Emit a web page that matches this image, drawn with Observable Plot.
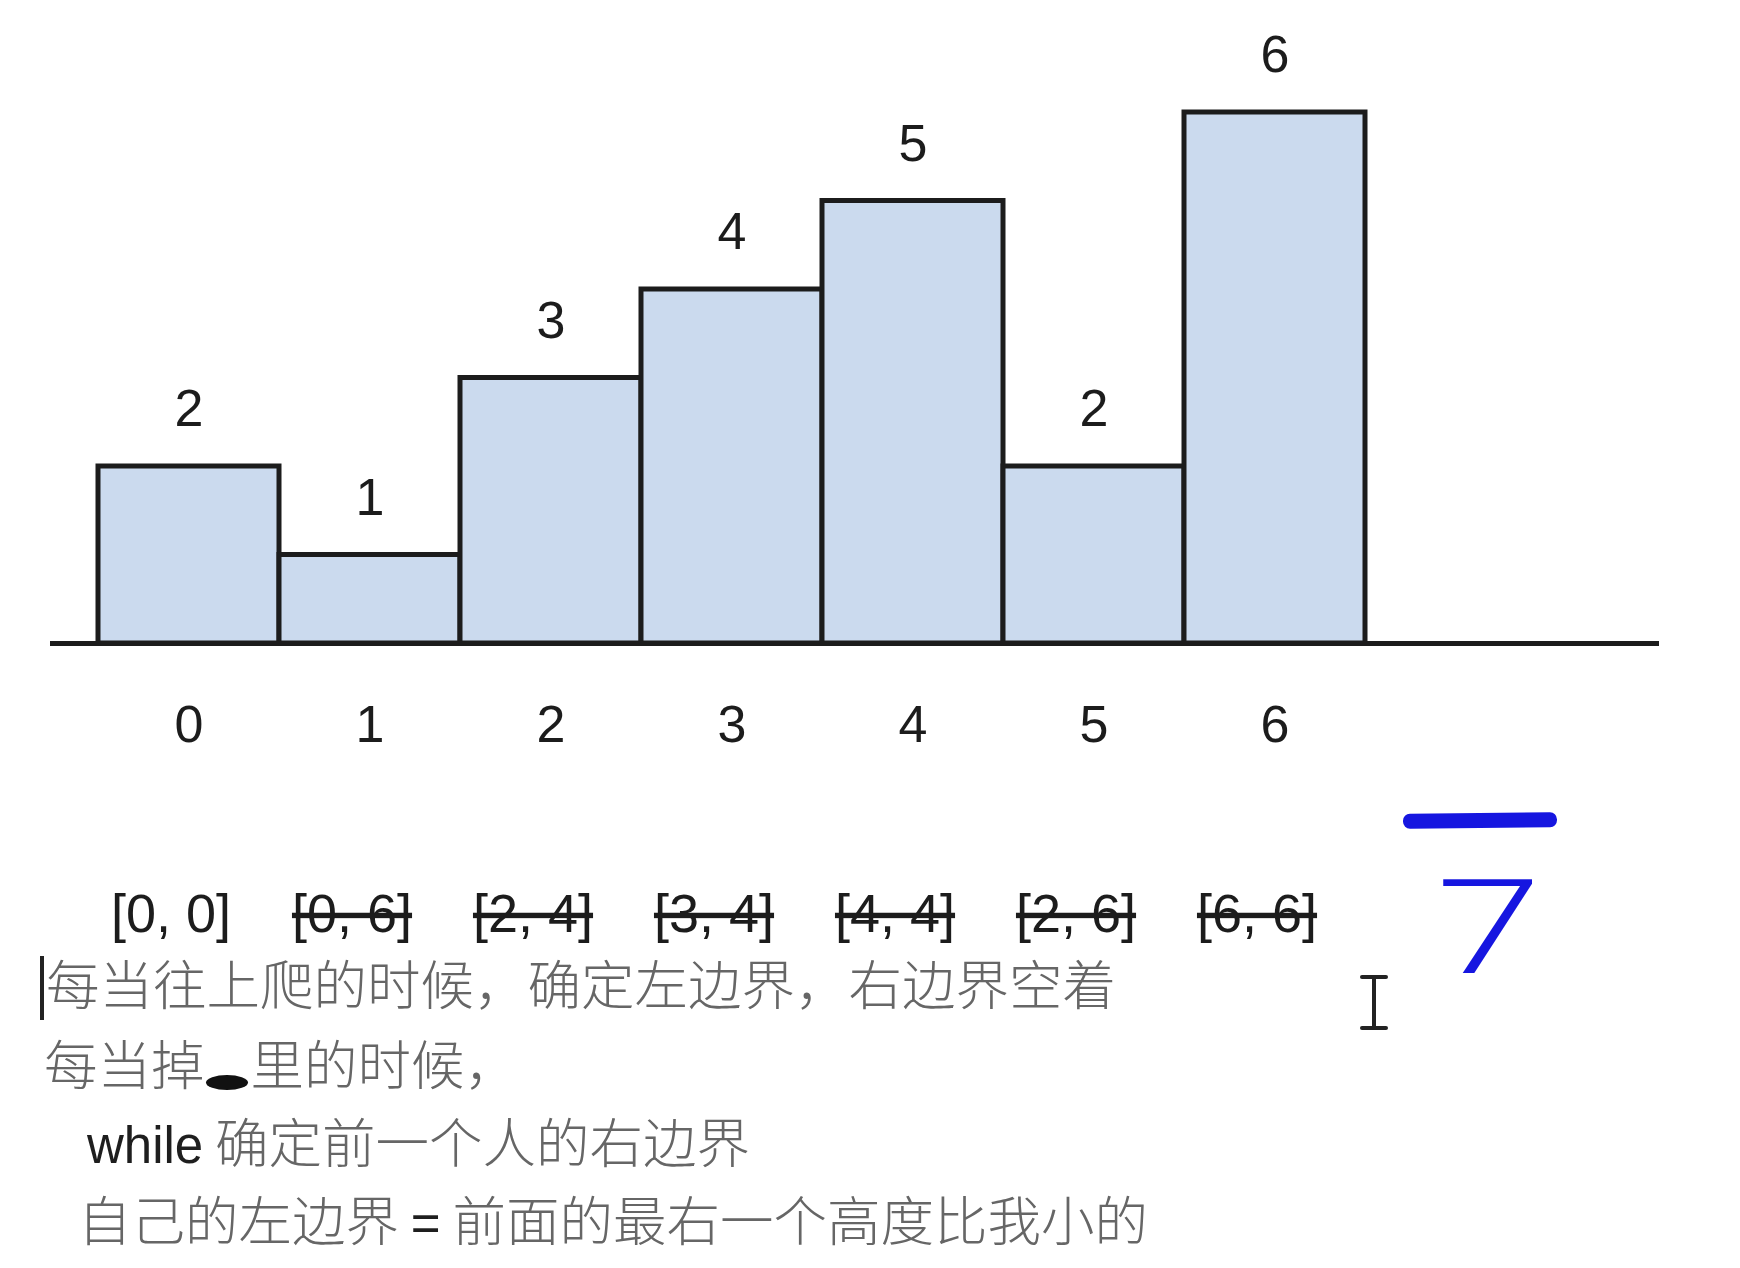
<!DOCTYPE html>
<html>
<head>
<meta charset="utf-8">
<script src="https://cdn.jsdelivr.net/npm/d3@7"></script>
<script src="https://cdn.jsdelivr.net/npm/@observablehq/plot@0.6"></script>
<style>
  html, body { margin: 0; padding: 0; background: #fff; }
  #page { position: relative; width: 1740px; height: 1268px; overflow: hidden; background: #fff; }
  #chart svg { display: block; }
  .note { position: absolute; height: 78px; line-height: 78px; font-size: 53.5px; white-space: nowrap;
          font-family: "Noto Sans CJK SC", sans-serif; font-weight: 300; color: #666; }
  .lat { font-family: "Liberation Sans", Arial, sans-serif; font-weight: 400; color: #1e1e1e; font-size: 51px; }
  .cursor { display: inline-block; width: 4px; height: 64px; background: #222; vertical-align: middle; margin-right: 2px; position: relative; top: -2px; }
  .blob { display: inline-block; width: 42px; height: 15px; background: #111; border-radius: 50%; vertical-align: middle; position: relative; top: 12px; margin: 0 3px 0 1px; }
  .ink7 { position: absolute; left: 1436px; top: 863px; font-family: Roboto, sans-serif; font-weight: 300; font-size: 131px; line-height: 131px; color: #1616e0; transform: scaleX(1.45); transform-origin: left top; }
  .inkbar { position: absolute; left: 1403px; top: 813px; width: 154px; height: 15px; background: #1616e0; border-radius: 7px; transform: rotate(-0.6deg); }
  .ibeam { position: absolute; left: 1358px; top: 975px; width: 32px; height: 55px; }
  .ibeam .v { position: absolute; left: 14px; top: 0; width: 4px; height: 55px; background: #222; }
  .ibeam .h1, .ibeam .h2 { position: absolute; left: 2px; width: 28px; height: 4px; background: #222; border-radius: 2px; }
  .ibeam .h1 { top: 0; } .ibeam .h2 { bottom: 0; }
</style>
</head>
<body>
<div id="page">
  <div id="chart"></div>
  <div class="note" style="left:40px; top:943px;"><span class="cursor"></span>每当往上爬的时候，确定左边界，右边界空着</div>
  <div class="note" style="left:44px; top:1023px;">每当掉<span class="blob"></span>里的时候，</div>
  <div class="note" style="left:87px; top:1101px;"><span class="lat">while</span> 确定前一个人的右边界</div>
  <div class="note" style="left:78px; top:1179px;">自己的左边界 <span class="lat">=</span> 前面的最右一个高度比我小的</div>
  <div class="inkbar"></div>
  <div class="ink7">7</div>
  <div class="ibeam"><div class="v"></div><div class="h1"></div><div class="h2"></div></div>
</div>
<script>
// ---- data ----
const categories = ["0", "1", "2", "3", "4", "5", "6"];
const heights = [2, 1, 3, 4, 5, 2, 6];
const valueLabels = ["2", "1", "3", "4", "5", "2", "6"];
const tickLabels = ["0", "1", "2", "3", "4", "5", "6"];
const intervals = ["[0, 0]", "[0, 6]", "[2, 4]", "[3, 4]", "[4, 4]", "[2, 6]", "[6, 6]"];
const struck = [false, true, true, true, true, true, true];

const rows = categories.map((c, i) => ({
  cat: c, h: heights[i], label: valueLabels[i], tick: tickLabels[i],
  interval: intervals[i], struck: struck[i]
}));

const ink = "#1c1c1c";
const chart = Plot.plot({
  width: 1740,
  height: 943,
  marginLeft: 50,
  marginRight: 81,
  marginTop: 112,
  marginBottom: 300,
  style: { background: "#fff", fontFamily: "'Liberation Sans', Arial, sans-serif", color: ink },
  x: { type: "band", domain: categories, paddingInner: 0, paddingOuter: 0.94, align: 0.14, axis: null },
  y: { domain: [0, 6], axis: null },
  marks: [
    Plot.barY(rows, { x: "cat", y: "h", fill: "#cbdaee", stroke: ink, strokeWidth: 5, strokeLinejoin: "miter" }),
    Plot.ruleY([0], { stroke: ink, strokeWidth: 5 }),
    Plot.text(rows, { x: "cat", y: "h", text: "label", dy: -57, fontSize: 52, fill: ink }),
    Plot.text(rows, { x: "cat", y: 0, text: "tick", dy: 82, fontSize: 52, fill: ink }),
    Plot.text(rows.filter(d => !d.struck), { x: "cat", y: 0, text: "interval", dy: 271, dx: -18, fontSize: 54, fill: ink }),
    Plot.text(rows.filter(d => d.struck), { x: "cat", y: 0, text: "interval", dy: 271, dx: -18, fontSize: 54, fill: ink, ariaDescription: "struck" })
  ]
});
document.getElementById("chart").appendChild(chart);
d3.select(chart).selectAll('g[aria-description="struck"] text')
  .style("text-decoration", "line-through")
  .style("text-decoration-thickness", "4px");
</script>
</body>
</html>
